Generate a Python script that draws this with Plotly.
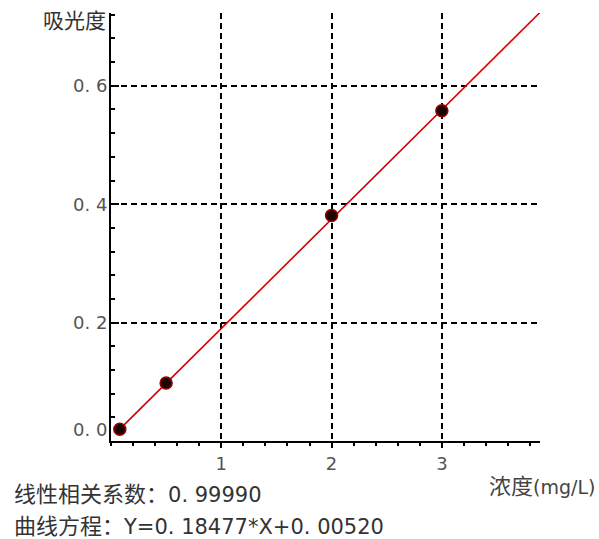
import plotly.graph_objects as go

# Calibration standards: concentration (mg/L) vs absorbance
conc = [0.08, 0.5, 2.0, 3.0]
absorb = [0.020, 0.098, 0.381, 0.558]

# Linear fit reported below the chart
slope = 0.18477
intercept = 0.00520
r_value = "0. 99990"
fit_x = [0.08, 3.89]
fit_y = [slope * x + intercept for x in fit_x]

x_ticks = [1, 2, 3]
x_tick_text = ["1", "2", "3"]
y_ticks = [0.0, 0.2, 0.4, 0.6]
y_tick_text = ["0. 0", "0. 2", "0. 4", "0. 6"]

x_range = [0, 3.89]
y_range = [0, 0.723]

CJK = "Noto Sans CJK SC"
LATIN = "DejaVu Sans"


def latin(s, size=21):
    return f'<span style="font-family:{LATIN};font-size:{size}px">{s}</span>'


fig = go.Figure()

fig.add_trace(go.Scatter(
    x=fit_x, y=fit_y, mode="lines",
    line=dict(color="#d40000", width=1.6),
    hoverinfo="skip", showlegend=False,
))
fig.add_trace(go.Scatter(
    x=conc, y=absorb, mode="markers",
    marker=dict(size=12, color="#1c0404", line=dict(color="#9a0000", width=1.5)),
    showlegend=False,
))

grid_style = dict(
    showgrid=True, gridcolor="#000000", gridwidth=2, griddash="6px,4px",
    zeroline=False, showline=True, linecolor="#000000", linewidth=2,
)

fig.update_xaxes(
    range=x_range, tickvals=x_ticks, ticktext=x_tick_text,
    ticks="outside", ticklen=5, tickwidth=2, tickcolor="#000000",
    tickfont=dict(family=LATIN, size=18, color="#555555"),
    minor=dict(dtick=0.2, tick0=0, ticks="outside", ticklen=3,
               tickwidth=1.5, tickcolor="#000000", showgrid=False),
    **grid_style,
)
fig.update_yaxes(
    range=y_range, tickvals=y_ticks[1:], showticklabels=False,
    ticks="inside", ticklen=8, tickwidth=2, tickcolor="#000000",
    minor=dict(dtick=0.04, tick0=0, ticks="inside", ticklen=4,
               tickwidth=1.5, tickcolor="#000000", showgrid=False),
    **grid_style,
)

annotations = []
for val, txt in zip(y_ticks, y_tick_text):
    annotations.append(dict(
        x=0, xref="paper", y=val, yref="y", text=txt, showarrow=False,
        xanchor="right", yanchor="middle", xshift=-2,
        yshift=12 if val == 0 else 0,
        font=dict(family=LATIN, size=18, color="#555555"),
    ))

equation = f"Y={slope:.5f}*X+{intercept:.5f}".replace("=0.", "=0. ").replace("+0.", "+0. ")

annotations += [
    dict(x=0, xref="paper", y=1, yref="paper", text="吸光度", showarrow=False,
         xanchor="right", yanchor="middle", xshift=-3, yshift=-6,
         font=dict(family=CJK, size=21, color="#333333")),
    dict(x=1, xref="paper", y=0, yref="paper",
         text="浓度" + latin("(mg/L)", 19), showarrow=False,
         xanchor="right", yanchor="middle", xshift=57, yshift=-43,
         font=dict(family=CJK, size=22, color="#444444")),
    dict(x=0, xref="paper", y=0, yref="paper",
         text="线性相关系数：" + latin(r_value), showarrow=False,
         xanchor="left", yanchor="middle", xshift=-99, yshift=-51,
         font=dict(family=CJK, size=22, color="#333333")),
    dict(x=0, xref="paper", y=0, yref="paper",
         text="曲线方程：" + latin(equation), showarrow=False,
         xanchor="left", yanchor="middle", xshift=-99, yshift=-83,
         font=dict(family=CJK, size=22, color="#333333")),
]

fig.update_layout(
    width=599, height=539, autosize=False,
    margin=dict(l=111, r=59, t=13, b=98),
    paper_bgcolor="#ffffff", plot_bgcolor="#ffffff",
    annotations=annotations,
    font=dict(family=CJK),
)

fig.write_html("out.html")
